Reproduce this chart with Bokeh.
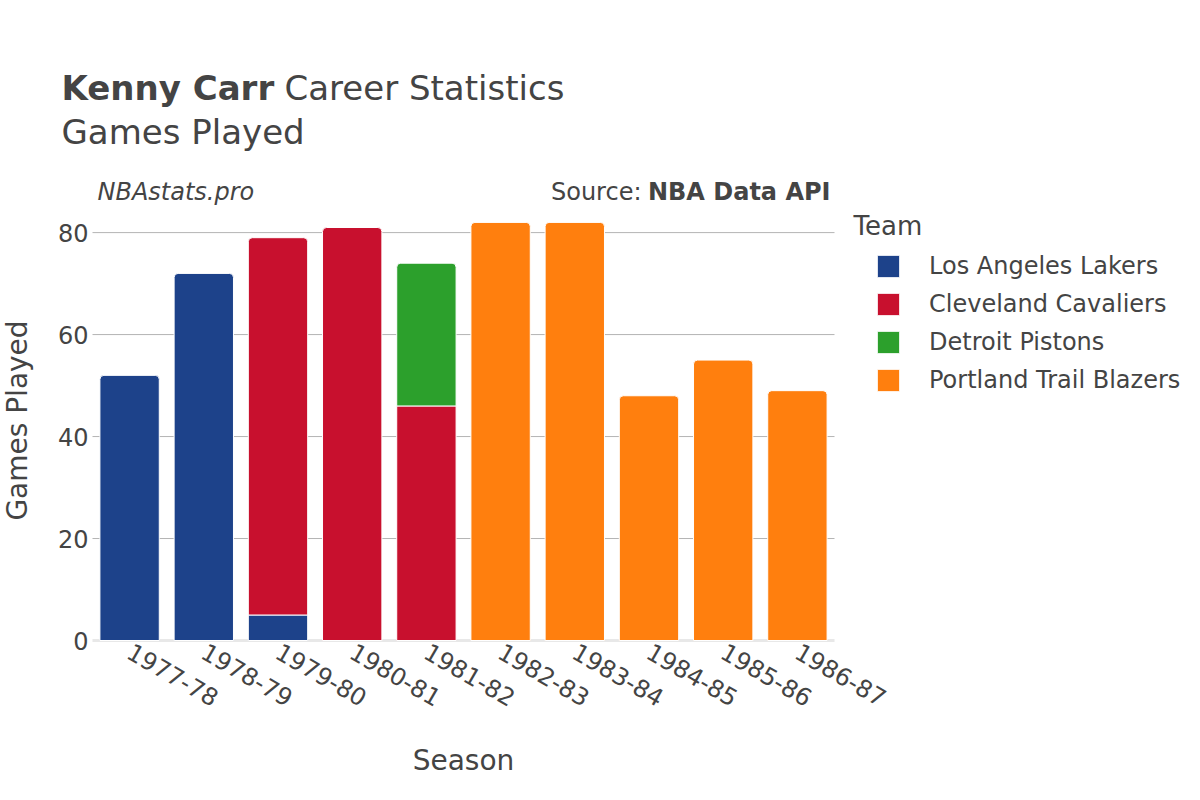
import math
from bokeh.plotting import figure
from bokeh.models import (Range1d, FixedTicker, Label, Legend, LegendItem,
                          ColumnDataSource)
from bokeh.embed import file_html
from bokeh.resources import INLINE

seasons = ["1977-78", "1978-79", "1979-80", "1980-81", "1981-82",
           "1982-83", "1983-84", "1984-85", "1985-86", "1986-87"]
teams = ["Los Angeles Lakers", "Cleveland Cavaliers", "Detroit Pistons",
         "Portland Trail Blazers"]
colors = ["#1d428a", "#c8102e", "#2ca02c", "#ff7f0e"]
lakers = [52, 72, 5, 0, 0, 0, 0, 0, 0, 0]
cavaliers = [0, 0, 74, 81, 46, 0, 0, 0, 0, 0]
pistons = [0, 0, 0, 0, 28, 0, 0, 0, 0, 0]
blazers = [0, 0, 0, 0, 0, 82, 82, 48, 55, 49]
series = [lakers, cavaliers, pistons, blazers]
y_ticks = [0, 20, 40, 60, 80]

TEXT = "#444444"
FONT = "DejaVu Sans"
W, H = 1200, 800
# plot area on the canvas (px)
PL, PR, PT, PB = 92, 834, 201, 640
n = len(seasons)
y_top = 86.1
xs_per_px = n / (PR - PL)
ys_per_px = y_top / (PB - PT)

p = figure(width=W, height=H, output_backend="svg", toolbar_location=None,
           x_range=Range1d(-PL * xs_per_px, (W - PL) * xs_per_px),
           y_range=Range1d(-(H - PB) * ys_per_px, PB * ys_per_px),
           min_border=0, min_border_left=0, min_border_right=0,
           min_border_top=0, min_border_bottom=0)
p.outline_line_color = None
p.background_fill_color = "white"
p.border_fill_color = "white"
p.xgrid.visible = False
p.ygrid.visible = False

xpos = [i + 0.5 for i in range(n)]

# axes fixed at the plot-area edges
p.yaxis.fixed_location = 0
p.yaxis.ticker = FixedTicker(ticks=y_ticks)
p.yaxis.axis_line_color = None
p.yaxis.major_tick_line_color = None
p.yaxis.minor_tick_line_color = None
p.yaxis.major_tick_out = 0
p.yaxis.major_tick_in = 0
p.yaxis.major_label_standoff = 4
p.yaxis.major_label_text_font_size = "24px"
p.yaxis.major_label_text_color = TEXT
p.yaxis.major_label_text_font = FONT

p.xaxis.fixed_location = 0
p.xaxis.ticker = FixedTicker(ticks=xpos)
p.xaxis.major_label_overrides = {x: s for x, s in zip(xpos, seasons)}
p.xaxis.axis_line_color = None
p.xaxis.major_tick_line_color = None
p.xaxis.minor_tick_line_color = None
p.xaxis.major_tick_out = 0
p.xaxis.major_tick_in = 0
p.xaxis.major_label_orientation = -math.pi / 6
p.xaxis.major_label_standoff = 9
p.xaxis.major_label_text_font_size = "24px"
p.xaxis.major_label_text_color = TEXT
p.xaxis.major_label_text_font = FONT

# grid lines and zero line, spanning the plot area only
grid = [t for t in y_ticks if t != 0]
p.segment(x0=[0] * len(grid), x1=[n] * len(grid), y0=grid, y1=grid,
          line_color="#b4b4b4", line_width=1)
p.segment(x0=[0], x1=[n], y0=[0], y1=[0], line_color="#e8e8e8", line_width=3)

# stacked bars
bottoms = [0] * n
totals = [sum(s[i] for s in series) for i in range(n)]
items = []
for team, color, vals in zip(teams, colors, series):
    top_d = dict(x=[], b=[], t=[])
    in_d = dict(x=[], b=[], t=[])
    for i, v in enumerate(vals):
        if v > 0:
            b = bottoms[i]
            t = b + v
            d = top_d if t == totals[i] else in_d
            d["x"].append(xpos[i]); d["b"].append(b); d["t"].append(t)
            bottoms[i] = t
    r1 = p.vbar(x="x", bottom="b", top="t", width=0.8, source=ColumnDataSource(top_d),
                fill_color=color, line_color="white", line_width=1,
                border_radius=(4, 4, 0, 0))
    p.vbar(x="x", bottom="b", top="t", width=0.8, source=ColumnDataSource(in_d),
           fill_color=color, line_color="white", line_width=1)
    items.append(LegendItem(label=team, renderers=[r1]))

legend = Legend(items=items, location=(874, H - 394), orientation="vertical",
                margin=0, padding=0, border_line_alpha=0, background_fill_alpha=0,
                glyph_width=28, glyph_height=28, label_height=28, spacing=10,
                label_standoff=27, label_text_font_size="24px",
                label_text_color=TEXT, label_text_font=FONT)
p.add_layout(legend)


def lab(text, x, y, size, style="normal", align="left", angle=0):
    p.add_layout(Label(text=text, x=x, y=H - y, x_units="screen", y_units="screen",
                       text_font=FONT, text_font_size=size, text_font_style=style,
                       text_color=TEXT, text_align=align, text_baseline="middle",
                       angle=angle))


lab("Kenny Carr", 61, 87, "34px", "bold")
lab("Career Statistics", 284, 87, "34px")
lab("Games Played", 61, 131, "34px")
lab("NBAstats.pro", 97, 191, "24px", "italic")
lab("Source:", 641, 191, "24px", align="right")
lab("NBA Data API", 830, 191, "24px", "bold", align="right")
lab("Team", 853, 225, "26px")
lab("Games Played", 17, 420, "28px", align="center", angle=math.pi / 2)
lab("Season", 463, 760, "28px", align="center")

open("out.html", "w").write(file_html(p, INLINE))
